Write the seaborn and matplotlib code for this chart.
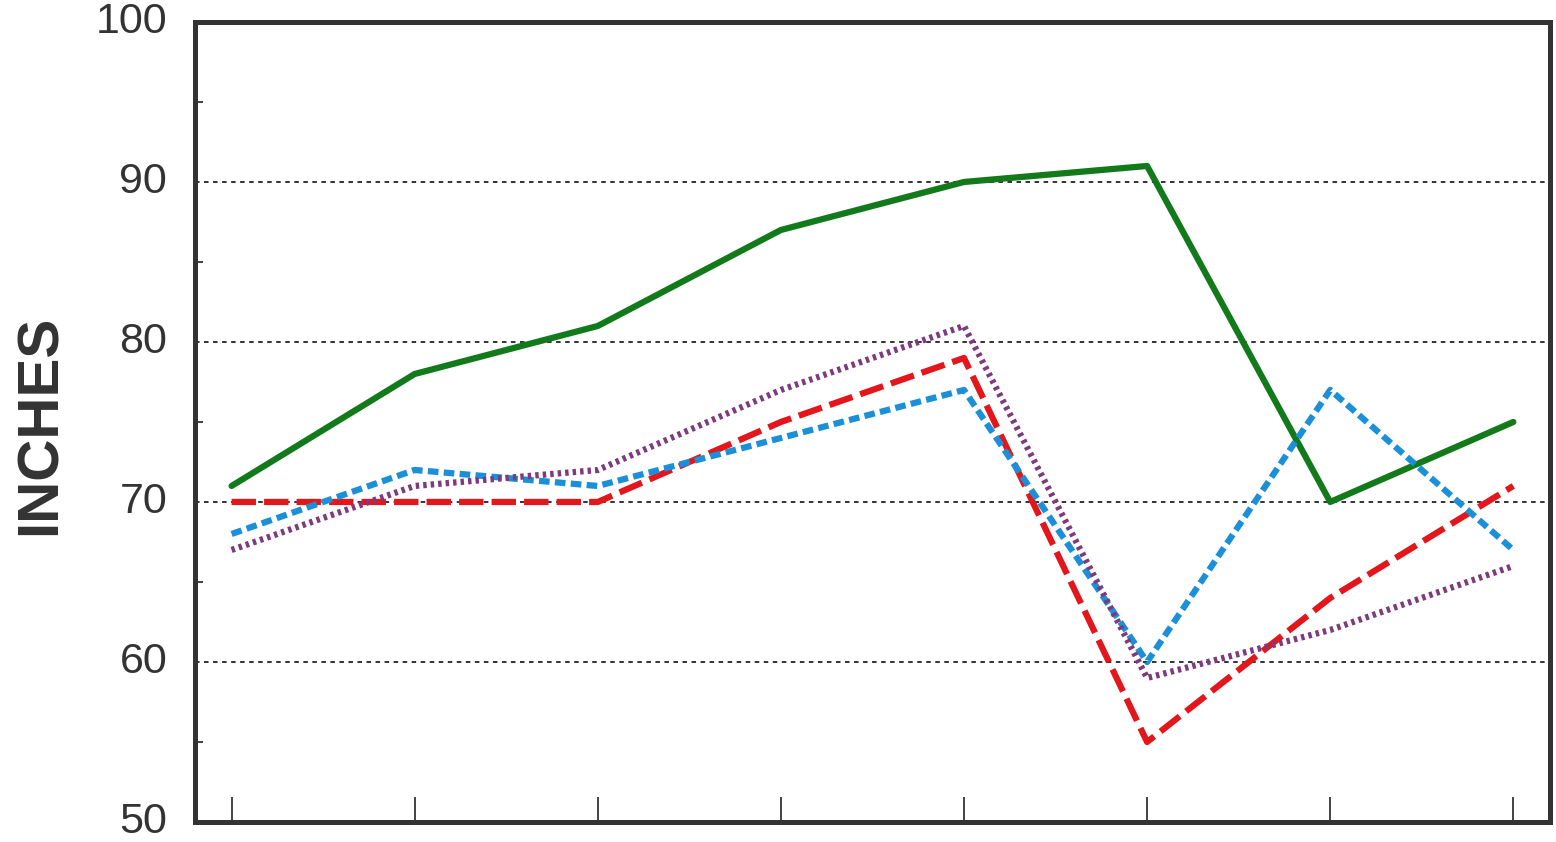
import numpy as np
import pandas as pd
import seaborn as sns
import matplotlib
matplotlib.use("Agg")
import matplotlib.pyplot as plt
from matplotlib.ticker import MultipleLocator

# values (8 points, no x labels)
x = [0, 1, 2, 3, 4, 5, 6, 7]
green = [71, 78, 81, 87, 90, 91, 70, 75]
red = [70, 70, 70, 75, 79, 55, 64, 71]
blue = [68, 72, 71, 74, 77, 60, 77, 67]
purple = [67, 71, 72, 77, 81, 59, 62, 66]
names = ["green", "red", "blue", "purple"]

df = pd.DataFrame({"x": x * 4,
                   "inches": green + red + blue + purple,
                   "series": np.repeat(names, len(x))})

palette = {"green": "#137a1c", "red": "#e3161c", "blue": "#1b8fd8", "purple": "#7d3a7e"}
dashes = {"green": "", "red": (3.9, 1.3), "blue": (1.7, 0.85), "purple": (0.55, 0.65)}

sns.set_style("white")
plt.rcParams['font.family'] = ['Liberation Sans', 'DejaVu Sans']

fig = plt.figure(figsize=(15.56, 8.42), dpi=100)
ax = fig.add_axes([0.1253, 0.0238, 0.8708, 0.9501])

# grid first so the lines sit on top
for g in [60, 70, 80, 90]:
    ax.axhline(g, color="#222222", lw=1.3, ls=(0, (2.5, 2.5)), zorder=1)

sns.lineplot(data=df, x="x", y="inches", hue="series", style="series",
             palette=palette, dashes=dashes, linewidth=4.5, legend=False,
             ax=ax, zorder=3)

ax.set_xlim(-0.2, 7.2)
ax.set_ylim(50, 100)
ax.set_xticks(x)
ax.set_xticklabels([])
ax.yaxis.set_major_locator(MultipleLocator(10))
ax.yaxis.set_minor_locator(MultipleLocator(5))
ax.tick_params(axis="y", which="major", direction="in", length=15, width=1.2,
               color="#222222", labelsize=31, pad=20, labelcolor="#333333")
ax.tick_params(axis="y", which="minor", direction="in", length=6, width=1.2,
               color="#222222", left=True)
ax.tick_params(axis="x", which="major", direction="in", length=18, width=1.2,
               color="#222222", bottom=True)
for lab in ax.get_yticklabels():
    lab.set_va("center")
ax.set_xlabel("")
ax.set_ylabel("")

for sp in ax.spines.values():
    sp.set_visible(True)
    sp.set_linewidth(3.6)
    sp.set_color("#333333")

fig.text(0.026, 0.495, "INCHES", rotation=90, fontsize=42, fontweight="bold",
         color="#333333", ha="center", va="center")

fig.savefig("out.png", dpi=100)
